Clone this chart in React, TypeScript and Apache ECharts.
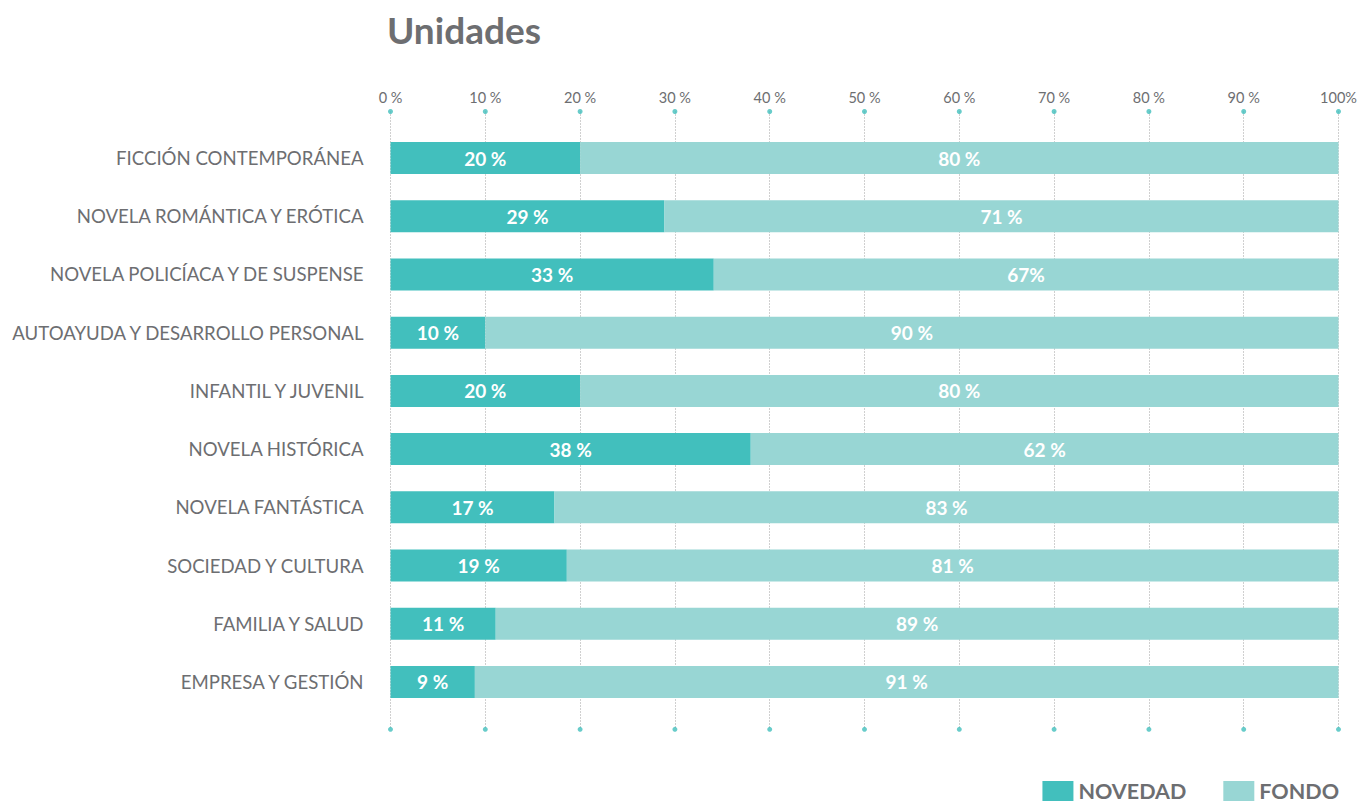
import React, { useEffect, useRef } from "react";
import * as echarts from "echarts";

const categories = [
  "FICCIÓN CONTEMPORÁNEA",
  "NOVELA ROMÁNTICA Y ERÓTICA",
  "NOVELA POLICÍACA Y DE SUSPENSE",
  "AUTOAYUDA Y DESARROLLO PERSONAL",
  "INFANTIL Y JUVENIL",
  "NOVELA HISTÓRICA",
  "NOVELA FANTÁSTICA",
  "SOCIEDAD Y CULTURA",
  "FAMILIA Y SALUD",
  "EMPRESA Y GESTIÓN",
];
const novedadValues = [20, 28.9, 34.1, 10, 20, 38, 17.3, 18.6, 11.1, 8.9];
const fondoValues = [80, 71.1, 65.9, 90, 80, 62, 82.7, 81.4, 88.9, 91.1];
const novedadLabels = ["20 %", "29 %", "33 %", "10 %", "20 %", "38 %", "17 %", "19 %", "11 %", "9 %"];
const fondoLabels = ["80 %", "71 %", "67%", "90 %", "80 %", "62 %", "83 %", "81 %", "89 %", "91 %"];
const tickValues = [0, 10, 20, 30, 40, 50, 60, 70, 80, 90, 100];
const tickLabels = ["0 %", "10 %", "20 %", "30 %", "40 %", "50 %", "60 %", "70 %", "80 %", "90 %", "100%"];

const DARK = "#42bfbd";
const LIGHT = "#98d6d4";
const GRAY = "#6d6e71";
const FONT = "Lato, 'Noto Sans', sans-serif";

export default function App() {
  const ref = useRef<HTMLDivElement>(null);
  useEffect(() => {
    document.body.style.margin = "0";
    if (!ref.current) return;
    const chart = echarts.init(ref.current, undefined, { renderer: "svg" });
    const left = 390.5;
    const right = 21.5;
    const dots: number[][] = [];
    tickValues.forEach((v) => {
      dots.push([v, 0]);
      dots.push([v, 1]);
    });
    const barLabel = {
      show: true,
      position: "inside",
      color: "#fff",
      fontFamily: FONT,
      fontSize: 19,
      fontWeight: "bold",
    };
    chart.setOption({
      animation: false,
      textStyle: { fontFamily: FONT },
      title: {
        text: "Unidades",
        left: 382,
        top: 6,
        textStyle: { fontFamily: FONT, fontSize: 37, fontWeight: "bold", color: GRAY },
      },
      legend: {
        right: 21,
        top: 780,
        padding: 0,
        itemWidth: 31,
        itemHeight: 20,
        itemGap: 37,
        icon: "rect",
        data: ["NOVEDAD", "FONDO"],
        textStyle: { fontFamily: FONT, fontSize: 21.5, fontWeight: "bold", color: GRAY },
      },
      grid: [
        { left, right, top: 128.9, bottom: 91.9 },
        { left, right, top: 111.5, bottom: 73.7 },
      ],
      xAxis: [
        { type: "value", gridIndex: 0, min: 0, max: 100, show: false },
        {
          type: "value",
          gridIndex: 1,
          min: 0,
          max: 100,
          interval: 10,
          position: "top",
          axisLine: { show: false },
          axisTick: { show: false },
          axisLabel: {
            margin: 7,
            fontFamily: FONT,
            fontSize: 14.5,
            color: GRAY,
            formatter: (v: number) => tickLabels[tickValues.indexOf(v)] ?? "",
          },
          splitLine: { show: true, lineStyle: { color: "#a0a0a0", width: 1, type: [1, 2] } },
        },
      ],
      yAxis: [
        {
          type: "category",
          gridIndex: 0,
          data: categories,
          inverse: true,
          axisLine: { show: false },
          axisTick: { show: false },
          axisLabel: { margin: 27, fontFamily: FONT, fontSize: 18.6, color: GRAY },
        },
        { type: "value", gridIndex: 1, min: 0, max: 1, show: false },
      ],
      series: [
        {
          name: "dots",
          type: "scatter",
          xAxisIndex: 1,
          yAxisIndex: 1,
          data: dots,
          symbolSize: 5,
          itemStyle: { color: DARK },
          silent: true,
          z: 1,
        },
        {
          name: "NOVEDAD",
          type: "bar",
          stack: "total",
          barWidth: 32,
          data: novedadValues,
          itemStyle: { color: DARK },
          label: { ...barLabel, formatter: (p: any) => novedadLabels[p.dataIndex] },
          z: 3,
        },
        {
          name: "FONDO",
          type: "bar",
          stack: "total",
          barWidth: 32,
          data: fondoValues,
          itemStyle: { color: LIGHT },
          label: { ...barLabel, formatter: (p: any) => fondoLabels[p.dataIndex] },
          z: 3,
        },
      ],
    });
    return () => chart.dispose();
  }, []);
  return <div ref={ref} style={{ width: 1360, height: 803 }} />;
}
